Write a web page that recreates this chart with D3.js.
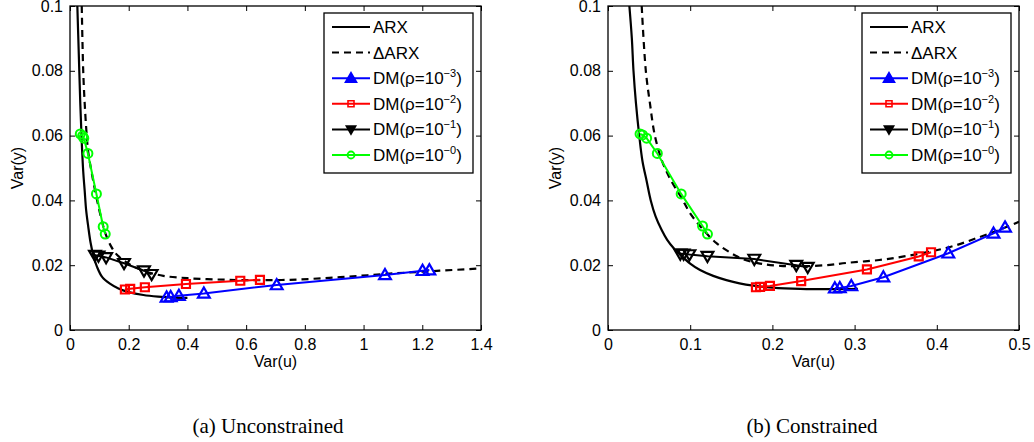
<!DOCTYPE html>
<html>
<head>
<meta charset="utf-8">
<script src="https://cdn.jsdelivr.net/npm/d3@7"></script>
<style>
  body { margin: 0; background: #fff; }
  svg { display: block; font-family: "Liberation Sans", Arial, Helvetica, sans-serif; }
</style>
</head>
<body>
<svg id="chart" width="1034" height="442"></svg>
<script>
// ---- data: (Var(u), Var(y)) pairs ----

// (a) Unconstrained
const arxUnc = [[0.025,0.1],[0.030,0.085],[0.035,0.070],[0.040,0.058],[0.045,0.049],[0.050,0.043],
  [0.055,0.037],[0.062,0.032],[0.070,0.027],[0.080,0.0228],[0.092,0.0195],[0.110,0.0163],[0.136,0.0143],
  [0.165,0.0128],[0.200,0.0117],[0.250,0.0108],[0.300,0.0103],[0.350,0.0100],[0.400,0.0099]];
const darxUnc = [[0.040,0.1],[0.045,0.080],[0.050,0.070],[0.057,0.060],[0.062,0.055],[0.075,0.048],
  [0.090,0.041],[0.105,0.035],[0.120,0.030],[0.140,0.0258],[0.160,0.0232],[0.190,0.0210],[0.220,0.0194],
  [0.260,0.0180],[0.318,0.0167],[0.400,0.0160],[0.500,0.0156],[0.600,0.0154],[0.750,0.0155],
  [0.920,0.0163],[1.090,0.0174],[1.260,0.0183],[1.400,0.0190]];
const dm3Unc = [[0.329,0.0101],[0.343,0.0102],[0.371,0.0106],[0.456,0.0113],[0.704,0.0139],
  [1.073,0.0170],[1.201,0.0183],[1.224,0.0185]];
const dm2Unc = [[0.187,0.0125],[0.205,0.0127],[0.255,0.0132],[0.395,0.0142],[0.580,0.0152],[0.647,0.0155]];
const dm1Unc = [[0.085,0.0231],[0.097,0.0229],[0.123,0.0224],[0.184,0.0206],[0.252,0.0183],[0.278,0.0172]];
const dm0Unc = [[0.035,0.0605],[0.043,0.0599],[0.047,0.0592],[0.061,0.0545],[0.090,0.0420],
  [0.113,0.0319],[0.120,0.0296]];

// (b) Constrained
const arxCon = [[0.026,0.1],[0.029,0.090],[0.031,0.080],[0.034,0.070],[0.038,0.060],[0.042,0.052],
  [0.047,0.046],[0.052,0.040],[0.058,0.035],[0.065,0.031],[0.072,0.0278],[0.080,0.0252],[0.088,0.0232],
  [0.100,0.0205],[0.112,0.0185],[0.128,0.0167],[0.144,0.0154],[0.160,0.0144],[0.177,0.0137],
  [0.200,0.0131],[0.234,0.0127],[0.270,0.0126],[0.304,0.0127]];
const darxCon = [[0.041,0.1],[0.046,0.080],[0.051,0.070],[0.057,0.060],[0.066,0.052],[0.077,0.046],
  [0.089,0.041],[0.100,0.036],[0.116,0.0309],[0.132,0.0268],[0.148,0.0240],[0.165,0.0218],
  [0.185,0.0205],[0.210,0.0198],[0.240,0.0197],[0.270,0.0201],[0.290,0.0207],[0.330,0.0216],
  [0.360,0.0227],[0.390,0.0241],[0.420,0.0259],[0.450,0.0285],[0.475,0.0308],[0.500,0.0334]];
const dm3Con = [[0.276,0.0129],[0.282,0.0130],[0.296,0.0136],[0.335,0.0163],[0.414,0.0237],
  [0.469,0.0298],[0.483,0.0317]];
const dm2Con = [[0.180,0.0132],[0.185,0.0133],[0.197,0.0136],[0.235,0.0151],[0.315,0.0187],
  [0.378,0.0227],[0.393,0.0240]];
const dm1Con = [[0.088,0.0235],[0.092,0.0235],[0.099,0.0233],[0.121,0.0228],[0.178,0.0219],
  [0.229,0.0200],[0.243,0.0194]];
const dm0Con = [[0.039,0.0605],[0.042,0.0602],[0.047,0.0592],[0.060,0.0545],[0.089,0.0420],
  [0.115,0.0321],[0.121,0.0296]];

// ticks and labels
const yTicks = [0, 0.02, 0.04, 0.06, 0.08, 0.1];
const xTicksUnc = [0, 0.2, 0.4, 0.6, 0.8, 1, 1.2, 1.4];
const xTicksCon = [0, 0.1, 0.2, 0.3, 0.4, 0.5];
const legendNames = ["ARX", "\u0394ARX", "DM(\u03c1=10", "DM(\u03c1=10", "DM(\u03c1=10", "DM(\u03c1=10"];
const legendExps = ["", "", "\u22123", "\u22122", "\u22121", "\u22120"];
const seriesColors = ["#000", "#000", "#0000ff", "#ff0000", "#000", "#00ff00"];
const seriesMarkers = [null, null, "up", "square", "down", "circle"];
const captions = ["(a)  Unconstrained", "(b)  Constrained"];

const svg = d3.select("#chart");
const fmt = d3.format("~g");

// forme des marqueurs (centrés sur 0,0)
function markerPath(type, s) {
  if (type === "up") return `M0,${-0.62*s}L${0.62*s},${0.45*s}L${-0.62*s},${0.45*s}Z`;
  if (type === "down") return `M0,${0.62*s}L${0.62*s},${-0.45*s}L${-0.62*s},${-0.45*s}Z`;
  if (type === "square") return `M${-s/2},${-s/2}h${s}v${s}h${-s}Z`;
  return null;
}

function drawMarkers(g, pts, type, color, size) {
  if (type === "circle") {
    g.selectAll(null).data(pts).enter().append("circle")
      .attr("cx", d => d[0]).attr("cy", d => d[1]).attr("r", size / 2)
      .attr("fill", "none").attr("stroke", color).attr("stroke-width", 2);
  } else {
    g.selectAll(null).data(pts).enter().append("path")
      .attr("d", markerPath(type, size))
      .attr("transform", d => `translate(${d[0]},${d[1]})`)
      .attr("fill", "none").attr("stroke", color).attr("stroke-width", 2.2)
      .attr("stroke-linejoin", "miter");
  }
}

function drawPanel(cfg, idx) {
  const x = d3.scaleLinear().domain(cfg.xDomain).range([cfg.left, cfg.right]);
  const y = d3.scaleLinear().domain([0, 0.1]).range([cfg.bottom, cfg.top]);
  const g = svg.append("g");

  const clipId = "clip" + idx;
  svg.append("clipPath").attr("id", clipId).append("rect")
    .attr("x", cfg.left).attr("y", cfg.top)
    .attr("width", cfg.right - cfg.left).attr("height", cfg.bottom - cfg.top);

  // axes (ticks vers l'intérieur, style Matlab)
  const axB = g.append("g").attr("transform", `translate(0,${cfg.bottom})`)
    .call(d3.axisBottom(x).tickValues(cfg.xTicks).tickSize(-5).tickPadding(9).tickFormat(fmt));
  const axT = g.append("g").attr("transform", `translate(0,${cfg.top})`)
    .call(d3.axisTop(x).tickValues(cfg.xTicks).tickSize(-5).tickFormat(""));
  const axL = g.append("g").attr("transform", `translate(${cfg.left},0)`)
    .call(d3.axisLeft(y).tickValues(yTicks).tickSize(-5).tickPadding(7).tickFormat(fmt));
  const axR = g.append("g").attr("transform", `translate(${cfg.right},0)`)
    .call(d3.axisRight(y).tickValues(yTicks).tickSize(-5).tickFormat(""));
  [axB, axT, axL, axR].forEach(a => {
    a.select(".domain").remove();
    a.selectAll("line").attr("stroke", "#000");
    a.selectAll("text").attr("font-size", 16).attr("font-family", null).attr("fill", "#000");
  });

  const plot = g.append("g").attr("clip-path", `url(#${clipId})`);
  const smooth = d3.line().x(d => x(d[0])).y(d => y(d[1])).curve(d3.curveCatmullRom);
  const straight = d3.line().x(d => x(d[0])).y(d => y(d[1]));

  plot.append("path").attr("d", smooth(cfg.arx))
    .attr("fill", "none").attr("stroke", "#000").attr("stroke-width", 2.2);
  plot.append("path").attr("d", smooth(cfg.darx))
    .attr("fill", "none").attr("stroke", "#000").attr("stroke-width", 2.2)
    .attr("stroke-dasharray", "7,5");

  const sizes = [0, 0, 9.5, 8, 9.5, 9];
  cfg.dm.forEach((pts, i) => {
    const k = i + 2;
    plot.append("path").attr("d", straight(pts))
      .attr("fill", "none").attr("stroke", seriesColors[k]).attr("stroke-width", 2);
    drawMarkers(plot, pts.map(d => [x(d[0]), y(d[1])]), seriesMarkers[k], seriesColors[k], sizes[k]);
  });

  // cadre
  g.append("rect").attr("x", cfg.left).attr("y", cfg.top)
    .attr("width", cfg.right - cfg.left).attr("height", cfg.bottom - cfg.top)
    .attr("fill", "none").attr("stroke", "#000").attr("stroke-width", 1.3);

  // titres d'axes
  g.append("text").attr("x", (cfg.left + cfg.right) / 2).attr("y", 367)
    .attr("text-anchor", "middle").attr("font-size", 16).text("Var(u)");
  g.append("text").attr("transform", `translate(${cfg.left - 47},${(cfg.top + cfg.bottom) / 2}) rotate(-90)`)
    .attr("text-anchor", "middle").attr("font-size", 16).text("Var(y)");

  // légende
  const lx = cfg.right - 157, ly = cfg.top + 7;
  const leg = g.append("g").attr("transform", `translate(${lx},${ly})`);
  leg.append("rect").attr("width", 149).attr("height", 160)
    .attr("fill", "#fff").attr("stroke", "#000").attr("stroke-width", 1.3);
  const legSizes = [0, 0, 9, 6, 7.5, 7];
  legendNames.forEach((name, i) => {
    const yy = 14 + i * 25.6;
    leg.append("line").attr("x1", 8).attr("x2", 46).attr("y1", yy).attr("y2", yy)
      .attr("stroke", seriesColors[i]).attr("stroke-width", 2)
      .attr("stroke-dasharray", i === 1 ? "7,5" : null);
    if (seriesMarkers[i]) {
      const m = seriesMarkers[i];
      if (m === "circle") {
        leg.append("circle").attr("cx", 27).attr("cy", yy).attr("r", legSizes[i] / 2)
          .attr("fill", "none").attr("stroke", seriesColors[i]).attr("stroke-width", 1.8);
      } else {
        leg.append("path").attr("d", markerPath(m, legSizes[i]))
          .attr("transform", `translate(27,${yy})`)
          .attr("fill", m === "square" ? "none" : seriesColors[i])
          .attr("stroke", seriesColors[i]).attr("stroke-width", 1.6);
      }
    }
    const t = leg.append("text").attr("x", 49).attr("y", yy + 6).attr("font-size", 17);
    t.append("tspan").text(name);
    if (legendExps[i]) {
      t.append("tspan").attr("dy", -7).attr("font-size", 11).text(legendExps[i]);
      t.append("tspan").attr("dy", 7).text(")");
    }
  });

  // légende de sous-figure
  svg.append("text").attr("x", cfg.captionX).attr("y", 433)
    .attr("text-anchor", "middle").attr("font-family", "'Liberation Serif', 'Times New Roman', serif")
    .attr("font-size", 21).text(captions[idx]);
}

drawPanel({ left: 70, right: 481, top: 6, bottom: 330, xDomain: [0, 1.4], xTicks: xTicksUnc,
  arx: arxUnc, darx: darxUnc, dm: [dm3Unc, dm2Unc, dm1Unc, dm0Unc], captionX: 268 }, 0);
drawPanel({ left: 608, right: 1019, top: 6, bottom: 330, xDomain: [0, 0.5], xTicks: xTicksCon,
  arx: arxCon, darx: darxCon, dm: [dm3Con, dm2Con, dm1Con, dm0Con], captionX: 812 }, 1);
</script>
</body>
</html>
